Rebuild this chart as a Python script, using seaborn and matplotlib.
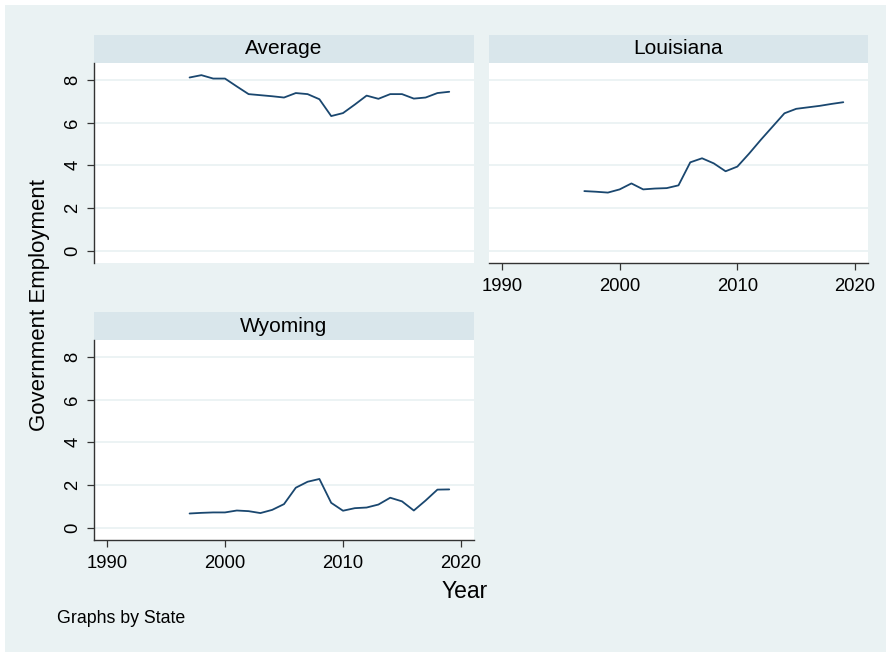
import numpy as np
import pandas as pd
import seaborn as sns
import matplotlib.pyplot as plt
from matplotlib.patches import Rectangle

# Government employment by state, 1997-2019
years = list(range(1997, 2020))
average = [8.12, 8.23, 8.07, 8.07, 7.70, 7.34, 7.29, 7.24, 7.18, 7.39, 7.34, 7.10,
           6.31, 6.45, 6.85, 7.27, 7.12, 7.34, 7.34, 7.13, 7.18, 7.39, 7.45]
louisiana = [2.79, 2.76, 2.72, 2.87, 3.15, 2.87, 2.91, 2.93, 3.06, 4.14, 4.33, 4.09,
             3.72, 3.94, 4.55, 5.20, 5.82, 6.44, 6.65, 6.72, 6.79, 6.88, 6.96]
wyoming = [0.66, 0.69, 0.71, 0.71, 0.80, 0.77, 0.68, 0.83, 1.10, 1.87, 2.15, 2.28,
           1.16, 0.79, 0.91, 0.94, 1.08, 1.40, 1.23, 0.80, 1.27, 1.78, 1.79]
states = ["Average", "Louisiana", "Wyoming"]
x_ticks = [1990, 2000, 2010, 2020]
y_ticks = [0, 2, 4, 6, 8]

df = pd.DataFrame({
    "Year": years * 3,
    "Employment": average + louisiana + wyoming,
    "State": np.repeat(states, len(years)),
})

sns.set_style("ticks")
plt.rcParams["font.family"] = ["Liberation Sans", "DejaVu Sans"]

BG = "#eaf2f3"
STRIP = "#d9e6eb"
LINE = "#1a476f"

g = sns.relplot(data=df, x="Year", y="Employment", col="State", col_wrap=2,
                col_order=states, kind="line", color=LINE, linewidth=1.3,
                height=3, aspect=1.4, facet_kws=dict(sharex=True, sharey=True))
fig = g.figure
fig.set_size_inches(8.87, 6.52)
fig.patch.set_facecolor("white")
W, H = 887, 652

def box(l, t, r, b):
    return [l / W, 1 - b / H, (r - l) / W, (b - t) / H]

pos = {
    "Average": box(94, 63, 474, 262.5),
    "Louisiana": box(489, 63, 868, 262.5),
    "Wyoming": box(94, 340, 474, 539.5),
}

fig.add_artist(Rectangle((5 / W, 0), 1 - 5 / W, 1 - 5 / H, transform=fig.transFigure,
                         facecolor=BG, edgecolor="none", zorder=-10))

g.set_titles("")
g.set_axis_labels("", "")

for name, ax in g.axes_dict.items():
    ax.set_position(pos[name])
    ax.set_facecolor("white")
    ax.set_xlim(1988.9, 2021.1)
    ax.set_ylim(-0.56, 8.8)
    ax.set_xticks(x_ticks)
    ax.set_yticks(y_ticks)
    ax.grid(axis="y", color=BG, linewidth=1.3)
    ax.grid(axis="x", visible=False)
    ax.set_axisbelow(True)
    for s in ("top", "right"):
        ax.spines[s].set_visible(False)
    for s in ("left", "bottom"):
        ax.spines[s].set_color("#333333")
        ax.spines[s].set_linewidth(1.0)
    ax.tick_params(axis="both", direction="out", length=5, width=0.9,
                   color="#333333", labelsize=13.3, labelcolor="black")
    ax.tick_params(axis="y", labelrotation=90, pad=4)
    ax.tick_params(axis="x", pad=6.5)
    for lab in ax.get_yticklabels():
        lab.set_va("center")

    # Panel header strip
    sh = 28 / 199.5
    ax.add_patch(Rectangle((0, 1), 1, sh, transform=ax.transAxes, clip_on=False,
                           facecolor=STRIP, edgecolor="none"))
    ax.text(0.5, 1 + sh / 2, name, transform=ax.transAxes, ha="center", va="center",
            fontsize=15, color="black")

    if name == "Average":
        ax.spines["bottom"].set_visible(False)
        ax.tick_params(axis="x", bottom=False, labelbottom=False)
        ax.tick_params(axis="y", left=True, labelleft=True)
    elif name == "Louisiana":
        ax.spines["left"].set_visible(False)
        ax.tick_params(axis="y", left=False, labelleft=False)
        ax.tick_params(axis="x", bottom=True, labelbottom=True)
    else:
        ax.tick_params(axis="y", left=True, labelleft=True)
        ax.tick_params(axis="x", bottom=True, labelbottom=True)

fig.text(40 / W, 1 - 305 / H, "Government Employment", rotation=90,
         ha="center", va="center", fontsize=16, color="black")
fig.text(465 / W, 1 - 592 / H, "Year", ha="center", va="center",
         fontsize=16.5, color="black")
fig.text(57 / W, 1 - 623 / H, "Graphs by State", ha="left", va="baseline",
         fontsize=12.8, color="black")

fig.savefig("out.png", dpi=100)
